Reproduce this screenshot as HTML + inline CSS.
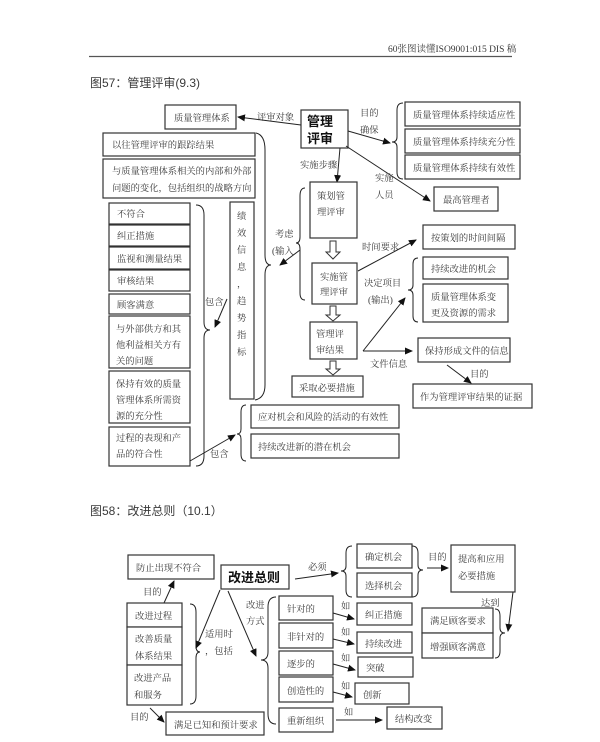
<!DOCTYPE html>
<html><head><meta charset="utf-8"><style>
html,body{margin:0;padding:0;background:#fff;}
svg{display:block;}
text{font-family:"Liberation Serif","Noto Serif CJK SC","Noto Sans CJK SC",serif;fill:#3a3a3a;font-size:9.3px;}
.b{fill:#fff;stroke:#333;stroke-width:1.2;}
.l{fill:none;stroke:#222;stroke-width:1;}
</style></head><body>
<svg width="600" height="742" viewBox="0 0 600 742" xmlns="http://www.w3.org/2000/svg">
<defs><marker id="a" markerWidth="8" markerHeight="8" refX="7" refY="4" orient="auto" markerUnits="userSpaceOnUse"><path d="M0,0.5 L8,4 L0,7.5 Z" fill="#111"/></marker></defs>
<!-- header -->
<text x="388" y="52" style="font-size:9.5px">60张图读懂ISO9001:015 DIS 稿</text>
<line x1="89" y1="56.5" x2="512" y2="56.5" stroke="#555" stroke-width="1.2"/>
<text x="90" y="87" style="font-size:12px;font-family:'Liberation Sans','Noto Sans CJK SC',sans-serif">图57：管理评审(9.3)</text>

<!-- top -->
<rect class="b" x="165" y="105" width="71" height="24"/><text x="174" y="121">质量管理体系</text>
<rect class="b" x="301" y="110" width="47" height="38"/>
<text x="307" y="126" style="font-size:13px;font-weight:bold;fill:#111;font-family:'Liberation Sans','Noto Sans CJK SC',sans-serif">管理</text>
<text x="307" y="143" style="font-size:13px;font-weight:bold;fill:#111;font-family:'Liberation Sans','Noto Sans CJK SC',sans-serif">评审</text>
<line class="l" x1="301" y1="125" x2="238" y2="117" marker-end="url(#a)"/><text x="257" y="120">评审对象</text>
<text x="360" y="116">目的</text><text x="360" y="133">确保</text>
<line class="l" x1="348" y1="131" x2="390" y2="143" marker-end="url(#a)"/>
<path class="l" d="M403,103 Q397,103 397,110 L397,137 Q397,142 392,142 Q397,142 397,147 L397,172 Q397,179 403,179"/>
<rect class="b" x="405" y="102" width="115" height="24"/><text x="413" y="118">质量管理体系持续适应性</text>
<rect class="b" x="405" y="129" width="115" height="24"/><text x="413" y="145">质量管理体系持续充分性</text>
<rect class="b" x="405" y="155" width="115" height="24"/><text x="413" y="171">质量管理体系持续有效性</text>
<line class="l" x1="346" y1="146" x2="430" y2="201" marker-end="url(#a)"/>
<text x="375" y="181">实施</text><text x="375" y="198">人员</text>
<rect class="b" x="434" y="187" width="64" height="24"/><text x="443" y="203">最高管理者</text>
<line class="l" x1="340" y1="148" x2="337" y2="182" marker-end="url(#a)"/><text x="300" y="168">实施步骤</text>

<!-- left boxes -->
<rect class="b" x="103" y="133" width="152" height="23"/><text x="112" y="148">以往管理评审的跟踪结果</text>
<rect class="b" x="103" y="159" width="152" height="39"/><text x="112" y="174">与质量管理体系相关的内部和外部</text><text x="112" y="191">问题的变化，包括组织的战略方向</text>
<rect class="b" x="109" y="203" width="81" height="21"/><text x="117" y="217">不符合</text>
<rect class="b" x="109" y="225" width="81" height="21"/><text x="117" y="239">纠正措施</text>
<rect class="b" x="109" y="247" width="81" height="22"/><text x="117" y="262">监视和测量结果</text>
<rect class="b" x="109" y="270" width="81" height="21"/><text x="117" y="284">审核结果</text>
<rect class="b" x="109" y="294" width="81" height="20"/><text x="117" y="308">顾客满意</text>
<rect class="b" x="109" y="316" width="81" height="52"/><text x="116" y="332">与外部供方和其</text><text x="116" y="348">他利益相关方有</text><text x="116" y="364">关的问题</text>
<rect class="b" x="109" y="371" width="81" height="52"/><text x="116" y="387">保持有效的质量</text><text x="116" y="403">管理体系所需资</text><text x="116" y="419">源的充分性</text>
<rect class="b" x="109" y="427" width="81" height="39"/><text x="116" y="441">过程的表现和产</text><text x="116" y="457">品的符合性</text>
<rect class="b" x="230" y="202" width="24" height="197"/>
<g><text x="237" y="219">绩</text><text x="237" y="236">效</text><text x="237" y="253">信</text><text x="237" y="270">息</text><text x="237" y="287">，</text><text x="237" y="304">趋</text><text x="237" y="321">势</text><text x="237" y="338">指</text><text x="237" y="355">标</text></g>
<!-- inner brace -->
<path class="l" d="M196,205 Q204,205 204,215 L204,322 Q204,330 210,330 Q204,330 204,338 L204,456 Q204,466 196,466"/>
<text x="205" y="305">包含</text>
<line class="l" x1="227" y1="299" x2="215" y2="327" marker-end="url(#a)"/>
<!-- big brace -->
<path class="l" d="M256,133 Q265,135 265,150 L265,255 Q265,265 271,265 Q265,265 265,275 L265,385 Q265,398 255,400"/>
<text x="275" y="237">考虑</text><text x="272" y="254">(输入</text>
<line class="l" x1="300" y1="250" x2="280" y2="265" marker-end="url(#a)"/>

<!-- center flow -->
<path class="l" d="M305,188 Q300,188 300,196 L300,237 Q300,243 296,243 Q300,243 300,249 L300,293 Q300,300 305,300"/>
<rect class="b" x="310" y="182" width="47" height="56"/><text x="317" y="199">策划管</text><text x="317" y="215">理评审</text>
<path d="M330,241 L336,241 L336,252 L340,252 L333,259 L326,252 L330,252 Z" fill="#fff" stroke="#333"/>
<rect class="b" x="312" y="263" width="45" height="41"/><text x="320" y="280">实施管</text><text x="320" y="295">理评审</text>
<path d="M330,306 L336,306 L336,315 L340,315 L333,321 L326,315 L330,315 Z" fill="#fff" stroke="#333"/>
<rect class="b" x="310" y="322" width="47" height="37"/><text x="316" y="337">管理评</text><text x="316" y="353">审结果</text>
<path d="M330,361 L336,361 L336,369 L340,369 L333,375 L326,369 L330,369 Z" fill="#fff" stroke="#333"/>
<rect class="b" x="292" y="376" width="71" height="21"/><text x="299" y="391">采取必要措施</text>

<line class="l" x1="358" y1="271" x2="416" y2="240" marker-end="url(#a)"/><text x="362" y="250">时间要求</text>
<rect class="b" x="423" y="225" width="92" height="24"/><text x="431" y="241">按策划的时间间隔</text>
<text x="364" y="286">决定项目</text><text x="368" y="303">(输出)</text>
<line class="l" x1="363" y1="351" x2="405" y2="298" marker-end="url(#a)"/>
<line class="l" x1="363" y1="351" x2="412" y2="351" marker-end="url(#a)"/>
<text x="370" y="367">文件信息</text>
<path class="l" d="M418,258 Q413,258 413,264 L413,285 Q413,290 408,290 Q413,290 413,295 L413,316 Q413,322 418,322"/>
<rect class="b" x="423" y="257" width="85" height="22"/><text x="431" y="272">持续改进的机会</text>
<rect class="b" x="423" y="284" width="85" height="38"/><text x="431" y="300">质量管理体系变</text><text x="431" y="316">更及资源的需求</text>
<rect class="b" x="418" y="338" width="92" height="24"/><text x="425" y="354">保持形成文件的信息</text>
<line class="l" x1="447" y1="365" x2="471" y2="383" marker-end="url(#a)"/><text x="470" y="377">目的</text>
<rect class="b" x="413" y="384" width="119" height="24"/><text x="420" y="400">作为管理评审结果的证据</text>

<path class="l" d="M246,405 Q241,405 241,412 L241,429 Q241,434 237,434 Q241,434 241,439 L241,454 Q241,461 246,461"/>
<rect class="b" x="251" y="405" width="148" height="23"/><text x="258" y="420">应对机会和风险的活动的有效性</text>
<rect class="b" x="251" y="434" width="148" height="24"/><text x="258" y="450">持续改进新的潜在机会</text>
<line class="l" x1="190" y1="461" x2="235" y2="435" marker-end="url(#a)"/><text x="210" y="457">包含</text>

<!-- figure 58 -->
<text x="90" y="515" style="font-size:12px;font-family:'Liberation Sans','Noto Sans CJK SC',sans-serif">图58：改进总则（10.1）</text>
<rect class="b" x="128" y="555" width="86" height="24"/><text x="136" y="571">防止出现不符合</text>
<rect class="b" x="221" y="565" width="68" height="24"/>
<text x="228" y="582" style="font-size:13px;font-weight:bold;fill:#111;font-family:'Liberation Sans','Noto Sans CJK SC',sans-serif">改进总则</text>
<line class="l" x1="295" y1="579" x2="338" y2="573" marker-end="url(#a)"/><text x="308" y="570">必须</text>
<path class="l" d="M352,546 Q346,546 346,553 L346,566 Q346,571 341,571 Q346,571 346,576 L346,590 Q346,597 352,597"/>
<rect class="b" x="357" y="544" width="55" height="24"/><text x="365" y="560">确定机会</text>
<rect class="b" x="357" y="573" width="55" height="24"/><text x="365" y="589">选择机会</text>
<path class="l" d="M412,546 Q418,546 418,553 L418,565 Q418,570 423,570 Q418,570 418,575 L418,590 Q418,597 412,597"/>
<text x="428" y="560">目的</text>
<line class="l" x1="427" y1="568" x2="448" y2="568" marker-end="url(#a)"/>
<rect class="b" x="451" y="545" width="64" height="47"/><text x="458" y="562">提高和应用</text><text x="458" y="579">必要措施</text>
<text x="481" y="606">达到</text>
<line class="l" x1="513" y1="592" x2="508" y2="631" marker-end="url(#a)"/>
<rect class="b" x="422" y="608" width="71" height="25"/><text x="430" y="624">满足顾客要求</text>
<rect class="b" x="422" y="633" width="71" height="25"/><text x="430" y="650">增强顾客满意</text>
<path class="l" d="M495,609 Q500,609 500,616 L500,628 Q500,633 505,633 Q500,633 500,638 L500,651 Q500,658 495,658"/>

<text x="143" y="595">目的</text>
<line class="l" x1="164" y1="603" x2="174" y2="581" marker-end="url(#a)"/>
<rect class="b" x="127" y="603" width="55" height="24"/><text x="135" y="619">改进过程</text>
<rect class="b" x="127" y="627" width="55" height="38"/><text x="135" y="642">改善质量</text><text x="135" y="659">体系结果</text>
<rect class="b" x="127" y="665" width="55" height="40"/><text x="134" y="681">改进产品</text><text x="134" y="698">和服务</text>
<path class="l" d="M190,604 Q196,604 196,612 L196,646 Q196,652 200,652 Q196,652 196,658 L196,696 Q196,704 190,704"/>
<line class="l" x1="220" y1="590" x2="196" y2="648" marker-end="url(#a)"/>
<text x="205" y="637">适用时</text><text x="205" y="654">，包括</text>
<text x="130" y="720">目的</text>
<line class="l" x1="150" y1="708" x2="164" y2="722" marker-end="url(#a)"/>
<rect class="b" x="166" y="712" width="98" height="23"/><text x="174" y="728">满足已知和预计要求</text>

<line class="l" x1="228" y1="591" x2="256" y2="656" marker-end="url(#a)"/>
<text x="246" y="608">改进</text><text x="246" y="624">方式</text>
<path class="l" d="M276,597 Q268,597 268,607 L268,652 Q268,660 261,660 Q268,660 268,668 L268,714 Q268,724 276,724"/>
<rect class="b" x="279" y="596" width="54" height="24"/><text x="287" y="612">针对的</text>
<rect class="b" x="279" y="623" width="54" height="25"/><text x="287" y="640">非针对的</text>
<rect class="b" x="279" y="651" width="54" height="24"/><text x="287" y="667">逐步的</text>
<rect class="b" x="279" y="677" width="54" height="25"/><text x="287" y="694">创造性的</text>
<rect class="b" x="279" y="708" width="54" height="24"/><text x="287" y="724">重新组织</text>
<text x="341" y="609">如</text><line class="l" x1="333" y1="613" x2="354" y2="619" marker-end="url(#a)"/>
<rect class="b" x="357" y="603" width="55" height="22"/><text x="365" y="618">纠正措施</text>
<text x="341" y="635">如</text><line class="l" x1="333" y1="639" x2="354" y2="644" marker-end="url(#a)"/>
<rect class="b" x="357" y="632" width="55" height="21"/><text x="365" y="647">持续改进</text>
<text x="341" y="661">如</text><line class="l" x1="333" y1="664" x2="355" y2="670" marker-end="url(#a)"/>
<rect class="b" x="358" y="657" width="55" height="20"/><text x="366" y="671">突破</text>
<text x="341" y="689">如</text><line class="l" x1="333" y1="692" x2="352" y2="697" marker-end="url(#a)"/>
<rect class="b" x="355" y="683" width="54" height="21"/><text x="363" y="698">创新</text>
<text x="344" y="715">如</text><line class="l" x1="336" y1="720" x2="382" y2="720" marker-end="url(#a)"/>
<rect class="b" x="387" y="707" width="55" height="22"/><text x="395" y="722">结构改变</text>
</svg>
</body></html>
